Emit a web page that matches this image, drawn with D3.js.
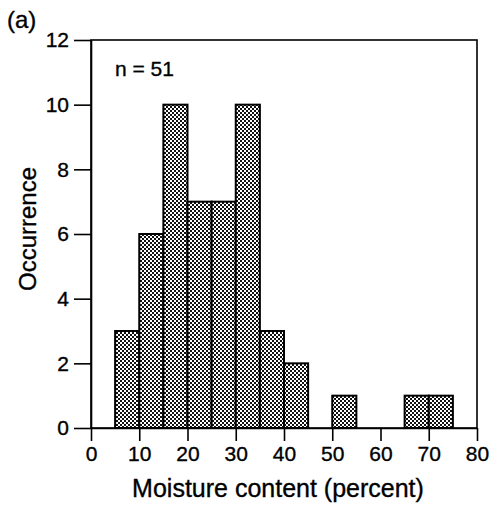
<!DOCTYPE html>
<html>
<head>
<meta charset="utf-8">
<script src="https://cdn.jsdelivr.net/npm/d3@7"></script>
<style>
  body { margin: 0; background: #fff; }
  text { font-family: "Liberation Sans", Arial, sans-serif; fill: #000; stroke: #000; stroke-width: 0.35px; }
</style>
</head>
<body>
<div id="chart"></div>
<script>
// histogram bins (lower edge, percent) and counts
var binStarts = [5, 10, 15, 20, 25, 30, 35, 40, 45, 50, 55, 60, 65, 70];
var counts    = [3, 6, 10, 7, 7, 10, 3, 2, 0, 1, 0, 0, 1, 1];
var binWidth = 5;
var xTicks = [0, 10, 20, 30, 40, 50, 60, 70, 80];
var yTicks = [0, 2, 4, 6, 8, 10, 12];

var width = 491, height = 508;
var margin = {left: 91, right: 14, top: 40, bottom: 80};

var svg = d3.select("#chart").append("svg")
    .attr("width", width)
    .attr("height", height);

var defs = svg.append("defs");
var pat = defs.append("pattern")
    .attr("id", "dither")
    .attr("patternUnits", "userSpaceOnUse")
    .attr("width", 4).attr("height", 4);
pat.append("rect").attr("width", 4).attr("height", 4).attr("fill", "#fff");
pat.append("rect").attr("x", 0).attr("y", 0).attr("width", 2).attr("height", 2).attr("fill", "#111");
pat.append("rect").attr("x", 2).attr("y", 2).attr("width", 2).attr("height", 2).attr("fill", "#111");

var x = d3.scaleLinear()
    .domain([0, 80])
    .range([margin.left, width - margin.right]);
var y = d3.scaleLinear()
    .domain([0, 12])
    .range([height - margin.bottom, margin.top]);

var data = binStarts.map(function(d, i) { return {x0: d, n: counts[i]}; })
    .filter(function(d) { return d.n > 0; });

svg.selectAll(".bar")
    .data(data)
    .enter()
        .append("rect").attr("class", "bar")
        .attr("x", function(d) { return x(d.x0); })
        .attr("y", function(d) { return y(d.n); })
        .attr("width", function(d) { return x(d.x0 + binWidth) - x(d.x0); })
        .attr("height", function(d) { return y(0) - y(d.n); })
        .attr("fill", "url(#dither)")
        .attr("stroke", "#000")
        .attr("stroke-width", 2);

// frame
svg.append("rect")
    .attr("x", x(0)).attr("y", y(12))
    .attr("width", x(80) - x(0)).attr("height", y(0) - y(12))
    .attr("fill", "none").attr("stroke", "#000").attr("stroke-width", 1.6);

var xAxis = svg.append("g")
    .attr("transform", "translate(0," + y(0) + ")")
    .call(d3.axisBottom(x).tickValues(xTicks).tickSize(13).tickPadding(5).tickSizeOuter(0));
var yAxis = svg.append("g")
    .attr("transform", "translate(" + x(0) + ",0)")
    .call(d3.axisLeft(y).tickValues(yTicks).tickSize(17).tickPadding(5).tickSizeOuter(0));

[xAxis, yAxis].forEach(function(g) {
    g.select(".domain").attr("stroke-width", 1.6);
    g.selectAll(".tick line").attr("stroke-width", 1.6);
    g.selectAll(".tick text")
        .attr("font-family", "Liberation Sans, Arial, sans-serif")
        .attr("font-size", "21px")
        .attr("fill", "#000");
});

svg.append("text")
    .attr("x", (x(0) + x(80)) / 2 - 6)
    .attr("y", 497)
    .attr("text-anchor", "middle")
    .attr("font-size", "25px")
    .text("Moisture content (percent)");

svg.append("text")
    .attr("transform", "translate(36,229) rotate(-90)")
    .attr("text-anchor", "middle")
    .attr("font-size", "24px")
    .text("Occurrence");

svg.append("text")
    .attr("x", 7).attr("y", 28)
    .attr("font-size", "24px")
    .text("(a)");

svg.append("text")
    .attr("x", 115).attr("y", 76)
    .attr("font-size", "21px")
    .text("n = 51");
</script>
</body>
</html>
